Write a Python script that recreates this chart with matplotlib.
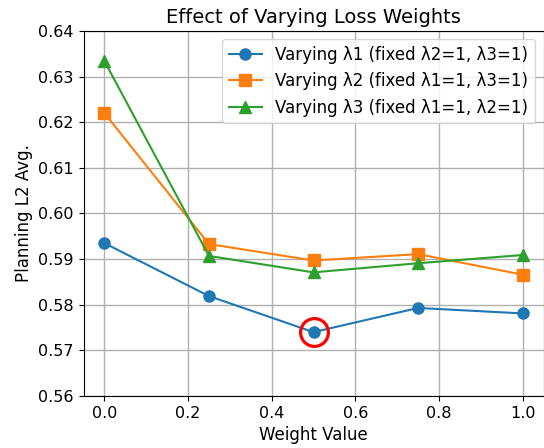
import matplotlib
matplotlib.use('Agg')
import matplotlib.pyplot as plt

# Data
weights = [0.0, 0.25, 0.5, 0.75, 1.0]
lam1 = [0.5935, 0.5819, 0.5740, 0.5793, 0.5781]
lam2 = [0.6220, 0.5933, 0.5897, 0.5911, 0.5866]
lam3 = [0.6334, 0.5907, 0.5871, 0.5891, 0.5909]
labels = ['Varying \u03bb1 (fixed \u03bb2=1, \u03bb3=1)',
          'Varying \u03bb2 (fixed \u03bb1=1, \u03bb3=1)',
          'Varying \u03bb3 (fixed \u03bb1=1, \u03bb2=1)']
best_x = 0.5
best_y = 0.5740

fig = plt.figure(figsize=(5.44, 4.48), dpi=100)
ax = fig.add_axes([83.5 / 544, 52 / 448, 460 / 544, 365 / 448])

ax.plot(weights, lam1, marker='o', markersize=8, linewidth=1.5, label=labels[0])
ax.plot(weights, lam2, marker='s', markersize=8, linewidth=1.5, label=labels[1])
ax.plot(weights, lam3, marker='^', markersize=8, linewidth=1.5, label=labels[2])

# highlight the best point
ax.plot(best_x, best_y, marker='o', markersize=20, markerfacecolor='none',
        markeredgecolor='red', markeredgewidth=2.3, linestyle='none')

ax.set_ylim(0.56, 0.64)
ax.set_xlim(-0.05, 1.05)
ax.set_xlabel('Weight Value', fontsize=12)
ax.set_ylabel('Planning L2 Avg.', fontsize=12)
ax.set_title('Effect of Varying Loss Weights', fontsize=14)
ax.tick_params(labelsize=11.5)
ax.grid(True, linewidth=1, color='#b0b0b0')
ax.legend(loc='upper right', fontsize=12)

fig.savefig('out.png', dpi=100)
